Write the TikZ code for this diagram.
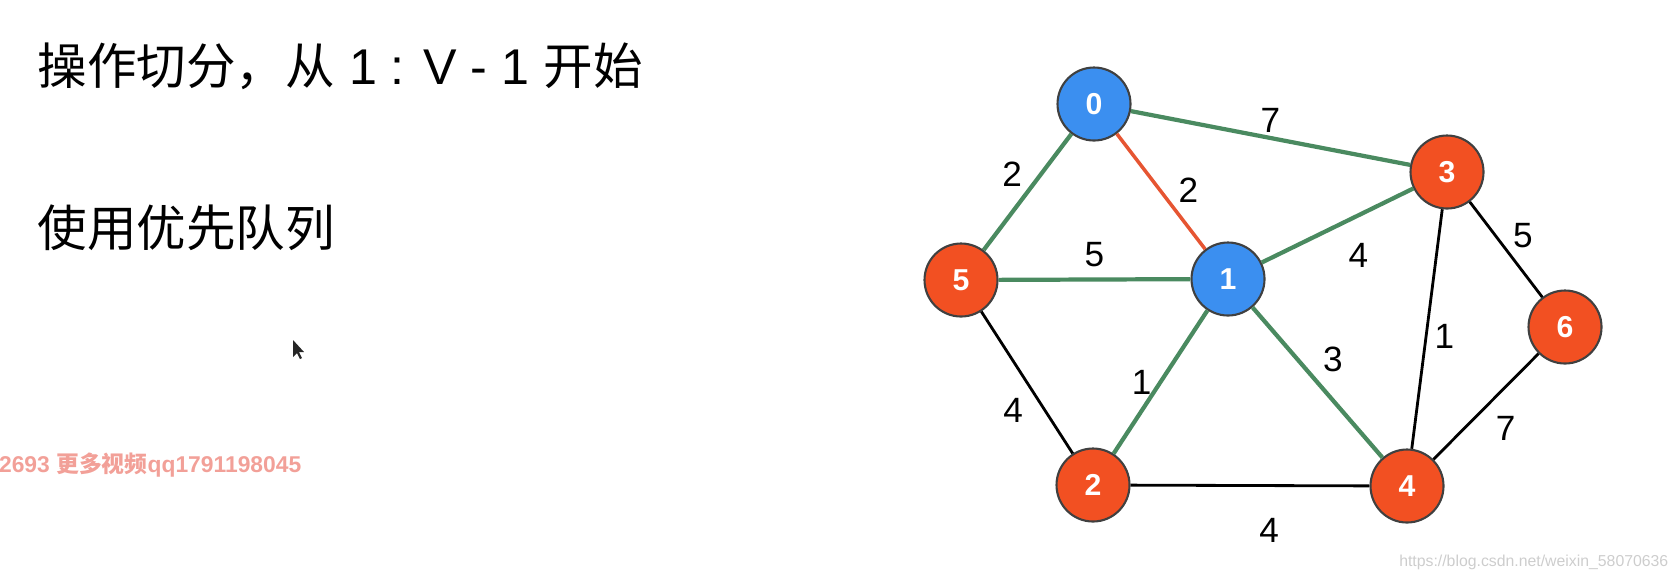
\documentclass[tikz,border=0pt]{standalone}
\usepackage{fontspec}
\setmainfont{Liberation Sans}
\newfontfamily\cjk{Noto Sans CJK SC}
\usetikzlibrary{positioning}
\definecolor{vblue}{RGB}{59,143,240}
\definecolor{vred}{RGB}{242,80,34}
\definecolor{egreen}{RGB}{74,138,96}
\definecolor{ered}{RGB}{230,85,50}
\definecolor{wmpink}{RGB}{242,160,152}
\definecolor{wmgray}{RGB}{205,205,205}
\tikzset{
	vtx/.style={circle, draw=black!75, line width=0.6pt, minimum size=7.3mm, inner sep=0pt, text=white, font=\fontsize{8.6}{10}\selectfont\bfseries},
	seen/.style={vtx, fill=vblue},
	unseen/.style={vtx, fill=vred},
	tree/.style={draw=egreen, line width=1.2pt},
	cut/.style={draw=ered, line width=1pt},
	plain/.style={draw=black, line width=0.8pt},
	wt/.style={font=\fontsize{10}{12}\selectfont, inner sep=1pt}
}

\begin{document}
\begin{tikzpicture}[x=0.1mm, y=-0.1mm]
	\useasboundingbox (0,0) rectangle (1679,579);
	
	% Text on the left
	\node[anchor=west, inner sep=0pt, font=\fontsize{14.1}{17}\selectfont] (title) at (37,66) {{\cjk 操作切分，从}{\fontsize{14.3}{17}\selectfont{} 1 : V - 1 }{\cjk 开始}};
	\node[anchor=west, inner sep=0pt, font=\fontsize{14.1}{17}\selectfont] (queue) at (37,228) {\cjk 使用优先队列};
	
	% Mouse pointer
	\fill[black!85] (293,340) -- ++(0,17) -- ++(4,-4) -- ++(3,6) -- ++(2,-1) -- ++(-3,-6) -- ++(5,0) -- cycle;
	
	% Watermarks
	\node[anchor=east, inner sep=0pt, text=wmpink, font=\fontsize{6.5}{8}\selectfont\bfseries] (wmqq) at (302,465) {2693 {\cjk 更多视频}qq1791198045};
	\node[anchor=east, inner sep=0pt, text=wmgray, font=\fontsize{4.5}{6}\selectfont] (wmurl) at (1669,562) {https://blog.csdn.net/weixin\_58070636};
	
	% Vertices
	\node[seen] (v0) at (1094,104) {0};
	\node[seen] (v1) at (1228,279) {1};
	\node[unseen] (v2) at (1093,485) {2};
	\node[unseen] (v3) at (1447,172) {3};
	\node[unseen] (v4) at (1407,486) {4};
	\node[unseen] (v5) at (961,280) {5};
	\node[unseen] (v6) at (1565,327) {6};
	
	% Weighted edges
	\path[tree] (v0) -- node[wt, pos=0.5, above left] {2} (v5);
	\path[cut] (v0) -- node[wt, pos=0.64, above right] {2} (v1);
	\path[tree] (v0) -- node[wt, pos=0.5, above] {7} (v3);
	\path[tree] (v5) -- node[wt, above=2pt] {5} (v1);
	\path[tree] (v1) -- node[wt, pos=0.47, below right=4pt] {4} (v3);
	\path[tree] (v1) -- node[wt, left=1pt] {1} (v2);
	\path[tree] (v1) -- node[wt, pos=0.48, above right=1pt] {3} (v4);
	\path[plain] (v3) -- node[wt, pos=0.53, right=1pt] {1} (v4);
	\path[plain] (v3) -- node[wt, pos=0.53, above right] {5} (v6);
	\path[plain] (v6) -- node[wt, below right=2pt] {7} (v4);
	\path[plain] (v5) -- node[wt, pos=0.55, below left=1.5pt] {4} (v2);
	\path[plain] (v2) -- node[wt, pos=0.58, below=8pt] {4} (v4);
\end{tikzpicture}
\end{document}
